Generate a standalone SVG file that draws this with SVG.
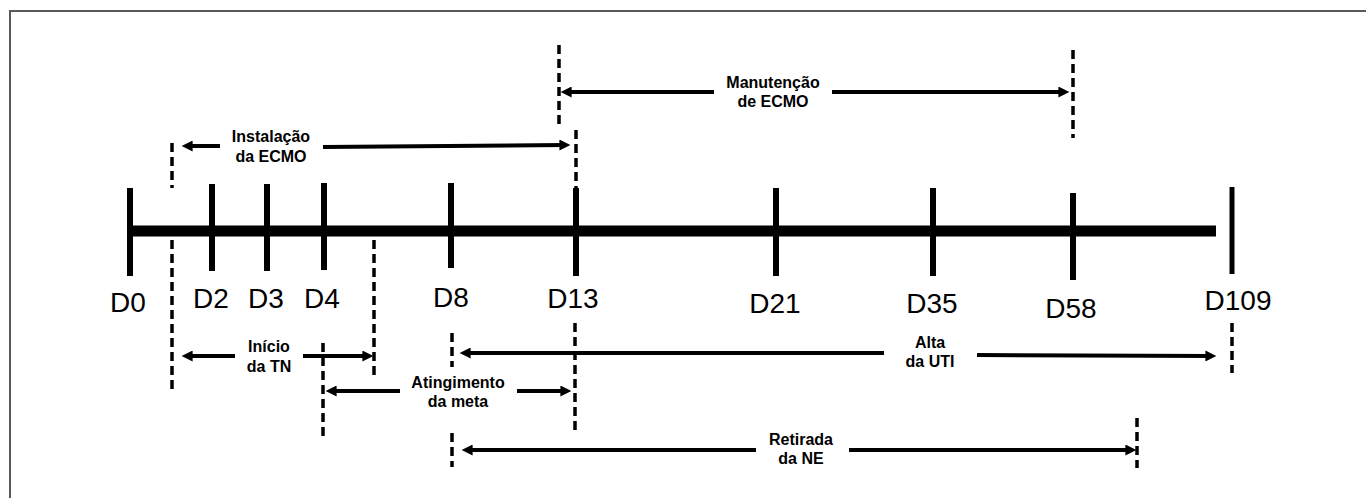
<svg xmlns="http://www.w3.org/2000/svg" width="1366" height="498" viewBox="0 0 1366 498">
<style>
.frame{stroke:#5a5a5a;stroke-width:2;fill:none}
.axis{stroke:#000;stroke-width:11}
.tick{stroke:#000;stroke-width:6}
.day{font-family:"Liberation Sans",Arial,sans-serif;font-size:28px;fill:#000;text-anchor:middle}
.lbl{font-family:"Liberation Sans",Arial,sans-serif;font-size:16px;font-weight:bold;fill:#000;text-anchor:middle}
.dash{stroke:#000;stroke-width:3.5;stroke-dasharray:9 5;fill:none}
.arr{stroke:#000;stroke-width:4;fill:none;marker-end:url(#ah)}
</style>
<defs>
<marker id="ah" viewBox="0 0 10 10" refX="6" refY="5" markerWidth="12" markerHeight="11" markerUnits="userSpaceOnUse" orient="auto">
<path d="M0,0 L10,5 L0,10 z" fill="#000"/>
</marker>
</defs>
<rect width="1366" height="498" fill="#fff"/>
<g id="border">
<line class="frame" x1="9" y1="11" x2="1366" y2="11"/>
<line class="frame" x1="10" y1="10" x2="10" y2="498"/>
</g>
<g id="axis">
<line class="axis" x1="130" y1="231" x2="1216" y2="231"/>
</g>
<g id="tick-D0"><line class="tick" x1="130" y1="188" x2="130" y2="276"/><text class="day" x="128" y="312">D0</text></g>
<g id="tick-D2"><line class="tick" x1="212" y1="184" x2="212" y2="271"/><text class="day" x="211" y="308">D2</text></g>
<g id="tick-D3"><line class="tick" x1="267" y1="184" x2="267" y2="271"/><text class="day" x="266" y="308">D3</text></g>
<g id="tick-D4"><line class="tick" x1="324" y1="183" x2="324" y2="270"/><text class="day" x="322" y="308">D4</text></g>
<g id="tick-D8"><line class="tick" x1="451" y1="183" x2="451" y2="268"/><text class="day" x="451" y="307">D8</text></g>
<g id="tick-D13"><line class="tick" x1="576" y1="188" x2="576" y2="276"/><text class="day" x="573" y="308">D13</text></g>
<g id="tick-D21"><line class="tick" x1="776" y1="188" x2="776" y2="276"/><text class="day" x="775" y="313">D21</text></g>
<g id="tick-D35"><line class="tick" x1="933" y1="188" x2="933" y2="276"/><text class="day" x="932" y="313">D35</text></g>
<g id="tick-D58"><line class="tick" x1="1073" y1="193" x2="1073" y2="280"/><text class="day" x="1071" y="318">D58</text></g>
<g id="tick-D109"><line class="tick" x1="1232" y1="187" x2="1232" y2="274" style="stroke-width:5"/><text class="day" x="1238" y="310">D109</text></g>
<g id="label-instalacao"><text class="lbl" x="271" y="142">Instalação</text><text class="lbl" x="271" y="162">da ECMO</text></g>
<g id="label-manutencao"><text class="lbl" x="773" y="88">Manutenção</text><text class="lbl" x="773" y="107">de ECMO</text></g>
<g id="label-inicio"><text class="lbl" x="269" y="352">Início</text><text class="lbl" x="269" y="372">da TN</text></g>
<g id="label-atingimento"><text class="lbl" x="458" y="388">Atingimento</text><text class="lbl" x="458" y="407">da meta</text></g>
<g id="label-alta"><text class="lbl" x="930" y="348">Alta</text><text class="lbl" x="930" y="367">da UTI</text></g>
<g id="label-retirada"><text class="lbl" x="801" y="445">Retirada</text><text class="lbl" x="801" y="464">da NE</text></g>
<g id="connectors">
<line class="dash" x1="172" y1="143" x2="172" y2="188"/>
<line class="dash" x1="576" y1="130" x2="576" y2="188"/>
<line class="arr" x1="220" y1="146" x2="186" y2="146"/>
<line class="arr" x1="323" y1="147" x2="566" y2="145"/>
<line class="dash" x1="559" y1="45" x2="559" y2="128"/>
<line class="dash" x1="1073" y1="50" x2="1073" y2="138"/>
<line class="arr" x1="714" y1="92" x2="565" y2="92"/>
<line class="arr" x1="832" y1="92" x2="1065" y2="92"/>
<line class="dash" x1="172" y1="240" x2="172" y2="390"/>
<line class="dash" x1="374" y1="240" x2="374" y2="378"/>
<line class="arr" x1="235" y1="356" x2="186" y2="356"/>
<line class="arr" x1="303" y1="356" x2="369" y2="356"/>
<line class="dash" x1="323" y1="343" x2="323" y2="440"/>
<line class="dash" x1="575" y1="323" x2="575" y2="433"/>
<line class="arr" x1="400" y1="391" x2="330" y2="391"/>
<line class="arr" x1="517" y1="391" x2="567" y2="391"/>
<line class="dash" x1="452" y1="333" x2="452" y2="367"/>
<line class="dash" x1="1232" y1="323" x2="1232" y2="373"/>
<line class="arr" x1="884" y1="353" x2="464" y2="353"/>
<line class="arr" x1="977" y1="355" x2="1212" y2="356"/>
<line class="dash" x1="452" y1="433" x2="452" y2="467"/>
<line class="dash" x1="1137" y1="418" x2="1137" y2="468"/>
<line class="arr" x1="756" y1="450" x2="466" y2="450"/>
<line class="arr" x1="849" y1="450" x2="1132" y2="450"/>
</g>
</svg>
